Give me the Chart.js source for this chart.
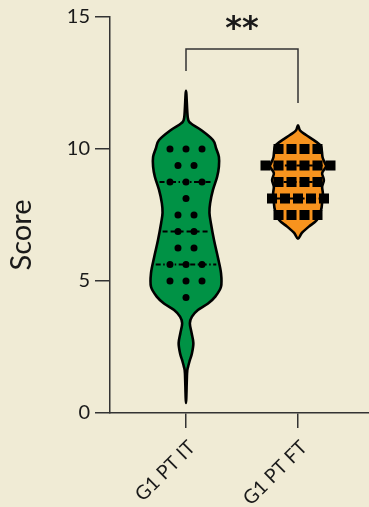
<!DOCTYPE html>
<html><head><meta charset="utf-8">
<script src="https://cdn.jsdelivr.net/npm/chart.js@4/dist/chart.umd.min.js"></script>
<style>html,body{margin:0;padding:0;background:#F0EBD5;}canvas{display:block}</style>
</head><body>
<canvas id="c" width="369" height="507"></canvas>
<script>
// ---------------- data ----------------
const categories = ['G1 PT IT', 'G1 PT FT'];
const yTickValues = [0, 5, 10, 15];
const yTitle = 'Score';
const significance = '**';

const scoresIT = [10, 10, 10, 9.375, 9.375, 8.75, 8.75, 8.75, 8.125, 7.5, 7.5,
  6.875, 6.875, 6.25, 6.25, 5.625, 5.625, 5.625, 5, 5, 5, 4.375];
const scoresFT = [10, 10, 10, 10, 9.375, 9.375, 9.375, 9.375, 9.375, 9.375,
  8.75, 8.75, 8.75, 8.75, 8.125, 8.125, 8.125, 8.125, 8.125, 7.5, 7.5, 7.5, 7.5];

const quartilesIT = [5.625, 6.875, 8.75];
const quartilesFT = [8.125, 8.75, 9.375];

// kernel density outline (relative density, 1 = widest)
const densityLevelsIT = [12.2, 11.2, 10.97, 10.72, 10.34, 10.03, 9.7, 9.33, 8.95, 8.45, 7.95, 7.58, 7.2,
  6.55, 5.9, 5.3, 4.78, 4.4, 4.15, 3.9, 3.65, 3.4, 3.03, 2.65, 2.26, 2.0, 1.75, 1.5, 0.38];
const densityIT = [0, 0.05, 0.14, 0.43, 0.77, 0.86, 0.94, 0.94, 0.89, 0.77, 0.69, 0.67, 0.71,
  0.8, 0.91, 1.0, 1.0, 0.83, 0.63, 0.34, 0.17, 0.11, 0.16, 0.21, 0.17, 0.11, 0.06, 0.03, 0];
const densityLevelsFT = [10.9, 10.7, 10.53, 10.28, 10.09, 9.7, 9.46, 9.33, 9.09, 8.83, 8.57, 8.33,
  8.0, 7.69, 7.31, 7.06, 6.82, 6.6];
const densityFT = [0, 0.06, 0.23, 0.51, 0.66, 0.7, 0.77, 0.8, 0.69, 0.74, 0.69, 0.71,
  0.69, 0.66, 0.54, 0.31, 0.11, 0];

// ---------------- styles ----------------
const BG = '#F0EBD5', INK = '#000000', AXIS = '#333333', TXT = '#1a1a1a';
const GREEN = '#009245', ORANGE = '#F7931E';
const FONT = 'Lato';
const VIOLIN_MAX = 0.3125;      // half width of widest violin part, in category units
const DOT_STEP = 0.143, SQ_STEP = 0.116;
const bracket = { from: 1, to: 2, top: 13.79, leftEnd: 12.95, rightEnd: 11.74, label: 14.8 };

function swarm(values, center, step) {
  const counts = {}, seen = {};
  values.forEach(v => counts[v] = (counts[v] || 0) + 1);
  return values.map(v => {
    const i = seen[v] = (seen[v] === undefined ? 0 : seen[v] + 1);
    return { x: center + (i - (counts[v] - 1) / 2) * step, y: v };
  });
}

const violins = [
  { center: 1, levels: densityLevelsIT, dens: densityIT, fill: GREEN, q: quartilesIT },
  { center: 2, levels: densityLevelsFT, dens: densityFT, fill: ORANGE, q: quartilesFT }
];

function densAt(levels, dens, v) {
  for (let i = 0; i < levels.length - 1; i++) {
    const a = levels[i], b = levels[i + 1];
    if (v <= a && v >= b) { const t = (a - v) / (a - b); return dens[i] + t * (dens[i + 1] - dens[i]); }
  }
  return 0;
}

const violinPlugin = {
  id: 'violin',
  beforeDraw(chart) {
    const c = chart.ctx; c.save(); c.fillStyle = BG; c.fillRect(0, 0, chart.width, chart.height); c.restore();
  },
  beforeDatasetsDraw(chart) {
    const ctx = chart.ctx, xs = chart.scales.x, ys = chart.scales.y;
    violins.forEach(vl => {
      const pts = [];
      const L = vl.levels, D = vl.dens;
      for (let i = 0; i < L.length; i++)
        pts.push([xs.getPixelForValue(vl.center + D[i] * VIOLIN_MAX), ys.getPixelForValue(L[i])]);
      for (let i = L.length - 2; i >= 1; i--)
        pts.push([xs.getPixelForValue(vl.center - D[i] * VIOLIN_MAX), ys.getPixelForValue(L[i])]);
      const n = pts.length, t = 1 / 6;
      ctx.save();
      ctx.beginPath();
      ctx.moveTo(pts[0][0], pts[0][1]);
      for (let i = 0; i < n; i++) {
        const p0 = pts[(i - 1 + n) % n], p1 = pts[i], p2 = pts[(i + 1) % n], p3 = pts[(i + 2) % n];
        ctx.bezierCurveTo(p1[0] + (p2[0] - p0[0]) * t, p1[1] + (p2[1] - p0[1]) * t,
          p2[0] - (p3[0] - p1[0]) * t, p2[1] - (p3[1] - p1[1]) * t, p2[0], p2[1]);
      }
      ctx.closePath();
      ctx.fillStyle = vl.fill; ctx.fill();
      ctx.lineWidth = 2.6; ctx.strokeStyle = INK; ctx.lineJoin = 'round'; ctx.stroke();
      // quartile lines
      vl.q.forEach((qv, k) => {
        const w = densAt(L, D, qv) * VIOLIN_MAX;
        const y = ys.getPixelForValue(qv);
        const x0 = xs.getPixelForValue(vl.center - w) + 3, x1 = xs.getPixelForValue(vl.center + w) - 3;
        ctx.beginPath();
        ctx.setLineDash(k === 1 ? [5, 3] : [5, 2.5, 1.5, 2.5]);
        ctx.lineWidth = 2; ctx.strokeStyle = INK;
        ctx.moveTo(x0, y); ctx.lineTo(x1, y); ctx.stroke();
      });
      ctx.restore();
    });
  },
  afterDraw(chart) {
    const ctx = chart.ctx, xs = chart.scales.x, ys = chart.scales.y;
    ctx.save();
    // significance bracket
    const xl = xs.getPixelForValue(bracket.from), xr = xs.getPixelForValue(bracket.to);
    const yt = ys.getPixelForValue(bracket.top);
    ctx.strokeStyle = AXIS; ctx.lineWidth = 1.5;
    ctx.beginPath();
    ctx.moveTo(xl, ys.getPixelForValue(bracket.leftEnd)); ctx.lineTo(xl, yt);
    ctx.lineTo(xr, yt); ctx.lineTo(xr, ys.getPixelForValue(bracket.rightEnd));
    ctx.stroke();
    ctx.fillStyle = TXT; ctx.font = 'bold 32px "DejaVu Sans"';
    ctx.textAlign = 'center'; ctx.textBaseline = 'middle';
    ctx.fillText(significance, (xl + xr) / 2, ys.getPixelForValue(bracket.label) + 7);
    // y axis title
    ctx.translate(22, 235); ctx.rotate(-Math.PI / 2);
    ctx.font = '29px ' + FONT; ctx.fillText(yTitle, 0, 0);
    ctx.restore();
  }
};

new Chart(document.getElementById('c'), {
  type: 'scatter',
  data: {
    datasets: [
      { data: swarm(scoresIT, 1, DOT_STEP), pointStyle: 'circle', pointRadius: 3.5,
        backgroundColor: INK, borderWidth: 0, clip: false },
      { data: swarm(scoresFT, 2, SQ_STEP), pointStyle: 'rect', pointRadius: 7.1,
        backgroundColor: INK, borderWidth: 0, clip: false }
    ]
  },
  plugins: [violinPlugin],
  options: {
    responsive: false, animation: false, devicePixelRatio: 1, events: [],
    layout: { autoPadding: false, padding: { top: 17, left: 0, right: 0, bottom: 0 } },
    plugins: { legend: { display: false }, tooltip: { enabled: false } },
    scales: {
      x: {
        type: 'linear', min: 1 - 76 / 112, max: 2 + 71 / 112,
        afterBuildTicks: s => { s.ticks = categories.map((_, i) => ({ value: i + 1 })); },
        afterFit: s => { s.height = 94; s.paddingLeft = 0; s.paddingRight = 0; },
        ticks: { callback: v => categories[v - 1], minRotation: 45, maxRotation: 45,
          font: { family: FONT, size: 19.5 }, color: TXT, padding: 8, labelOffset: 6, autoSkip: false },
        grid: { drawOnChartArea: false, drawTicks: true, tickLength: 15, color: AXIS, lineWidth: 1.5 },
        border: { display: true, color: AXIS, width: 1.5 }
      },
      y: {
        min: 0, max: 15,
        afterBuildTicks: s => { s.ticks = yTickValues.map(v => ({ value: v })); },
        afterFit: s => { s.width = 110; s.paddingTop = 0; s.paddingBottom = 0; },
        ticks: { font: { family: FONT, size: 20 }, color: TXT, padding: 5 },
        grid: { drawOnChartArea: false, drawTicks: true, tickLength: 15, color: AXIS, lineWidth: 1.5 },
        border: { display: true, color: AXIS, width: 1.5 }
      }
    }
  }
});
</script>
</body></html>
